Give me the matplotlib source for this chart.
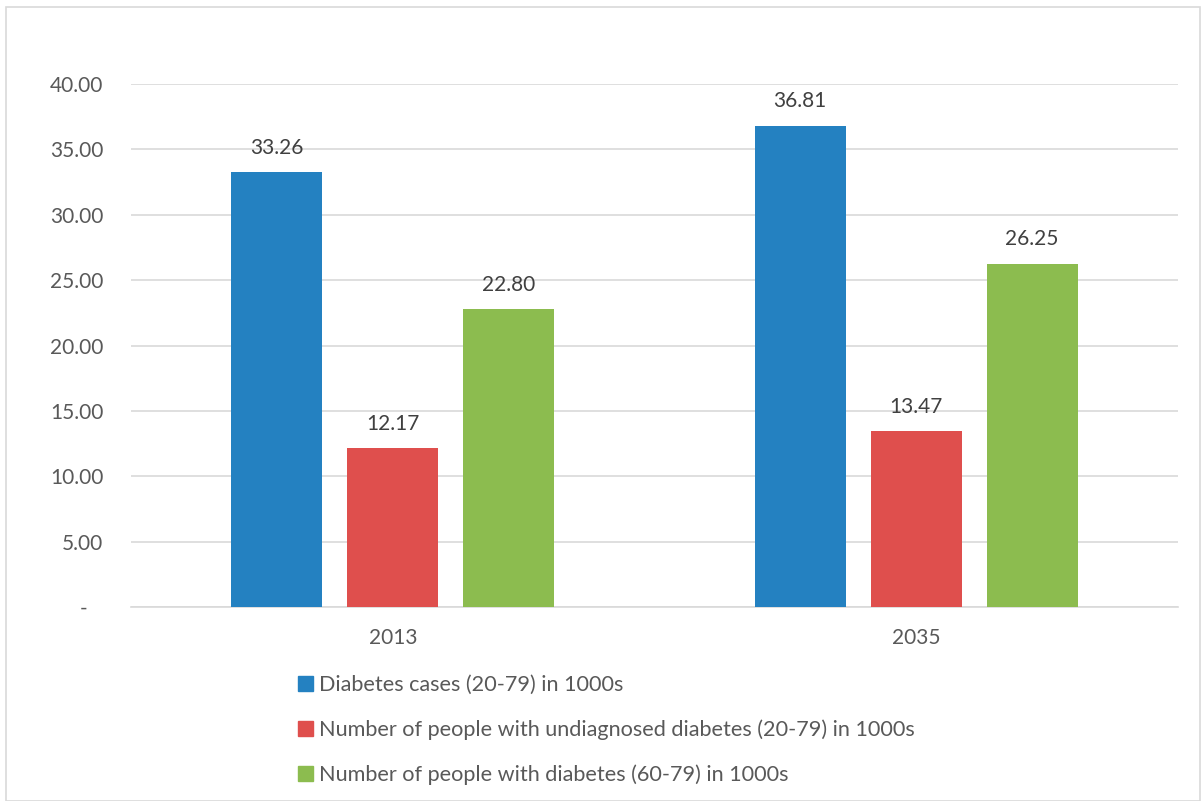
import matplotlib
matplotlib.use('Agg')
import matplotlib.pyplot as plt
import matplotlib.patches as mpatches
import numpy as np

plt.rcParams.update({
    'font.family': ['Lato', 'DejaVu Sans'],
    'font.size': 15,
})

# ── Data ────────────────────────────────────────────────────────────────────
YEARS = ['2013', '2035']
SERIES = [
    'Diabetes cases (20-79) in 1000s',
    'Number of people with undiagnosed diabetes (20-79) in 1000s',
    'Number of people with diabetes (60-79) in 1000s',
]
CASES       = [33.26, 36.81]
UNDIAGNOSED = [12.17, 13.47]
OLDER       = [22.80, 26.25]
COLORS = ['#2481C1', '#DF4F4D', '#8CBC4F']

FS = 15

fig = plt.figure(figsize=(12.03, 8.01), dpi=100)
ax = fig.add_axes([0.109, 0.2422, 0.870, 0.6528])

x = np.arange(len(YEARS))
width = 0.174
step = 0.2216
for i, (vals, col, lbl) in enumerate(zip([CASES, UNDIAGNOSED, OLDER], COLORS, SERIES)):
    bars = ax.bar(x + (i - 1) * step, vals, width, color=col, label=lbl, zorder=3)
    for b, v in zip(bars, vals):
        ax.text(b.get_x() + b.get_width() / 2, v + 1.1, f'{v:.2f}',
                ha='center', va='bottom', fontsize=FS, color='#404040')

ax.set_xlim(-0.5, 1.5)
ax.set_ylim(0, 40)
ax.set_yticks(np.arange(0, 41, 5))
ax.set_yticklabels(['-   '] + [f'{v:.2f}' for v in np.arange(5, 41, 5)])
ax.set_xticks(x)
ax.set_xticklabels(YEARS)
ax.tick_params(axis='y', length=0, pad=20, colors='#595959', labelsize=FS)
ax.tick_params(axis='x', length=0, pad=15, colors='#595959', labelsize=FS)
ax.grid(axis='y', color='#D9D9D9', lw=1.2, zorder=0)
for s in ['top', 'right', 'left']:
    ax.spines[s].set_visible(False)
ax.spines['bottom'].set_color('#D9D9D9')
ax.spines['bottom'].set_linewidth(1.2)

handles = [mpatches.Patch(color=c, label=l) for c, l in zip(COLORS, SERIES)]
leg = fig.legend(handles=handles, loc='upper left',
                 bbox_to_anchor=(281 / 1203, 1 - 658 / 801),
                 frameon=False, handlelength=0.68, handleheight=0.68,
                 handletextpad=0.28, labelspacing=1.12, fontsize=15.6,
                 borderpad=0.3)
for t in leg.get_texts():
    t.set_color('#595959')

# figure border
fig.patches.append(mpatches.Rectangle((6 / 1203, 0), 1 - 9 / 1203, 1 - 7 / 801,
                                      transform=fig.transFigure, fill=False,
                                      edgecolor='#D9D9D9', lw=1.2))

fig.savefig('out.png', dpi=100)
